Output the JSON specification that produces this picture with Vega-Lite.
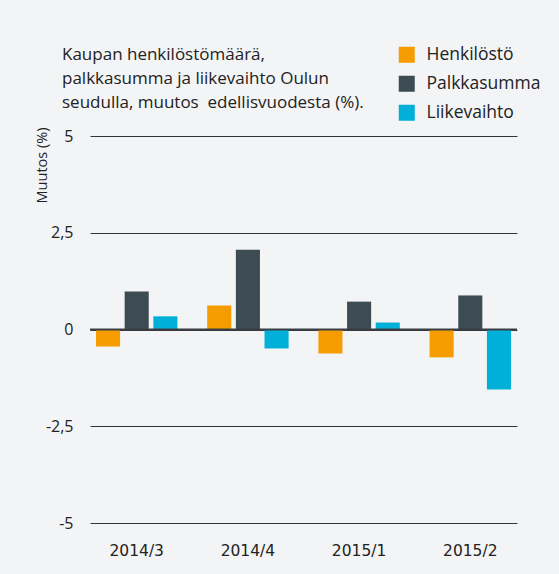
{
  "$schema": "https://vega.github.io/schema/vega-lite/v6.json",
  "width": 427,
  "height": 387,
  "padding": {"left": 90, "top": 136, "right": 42, "bottom": 51},
  "autosize": {"type": "none"},
  "background": "#f3f4f6",
  "config": {
    "font": "Open Sans",
    "view": {"stroke": null},
    "text": {"font": "Open Sans"}
  },
  "title": {
    "text": ["Kaupan henkilöstömäärä,", "palkkasumma ja liikevaihto Oulun", "seudulla, muutos\u00a0 edellisvuodesta (%)."],
    "anchor": "start",
    "frame": "group",
    "dx": -28,
    "dy": 92,
    "offset": 26,
    "fontSize": 17,
    "fontWeight": "normal",
    "color": "#222222",
    "lineHeight": 24,
    "font": "Open Sans"
  },
  "data": {
    "values": [
      {"q": "2014/3", "s": "Henkilöstö", "v": -0.44},
      {"q": "2014/3", "s": "Palkkasumma", "v": 0.98},
      {"q": "2014/3", "s": "Liikevaihto", "v": 0.34},
      {"q": "2014/4", "s": "Henkilöstö", "v": 0.62},
      {"q": "2014/4", "s": "Palkkasumma", "v": 2.06},
      {"q": "2014/4", "s": "Liikevaihto", "v": -0.49},
      {"q": "2015/1", "s": "Henkilöstö", "v": -0.62},
      {"q": "2015/1", "s": "Palkkasumma", "v": 0.72},
      {"q": "2015/1", "s": "Liikevaihto", "v": 0.18},
      {"q": "2015/2", "s": "Henkilöstö", "v": -0.72},
      {"q": "2015/2", "s": "Palkkasumma", "v": 0.88},
      {"q": "2015/2", "s": "Liikevaihto", "v": -1.55}
    ]
  },
  "layer": [
    {
      "mark": {"type": "bar"},
      "encoding": {
        "x": {
          "field": "q", "type": "nominal",
          "scale": {"paddingInner": 0.268, "paddingOuter": 0.054},
          "axis": {
            "title": null, "domain": false, "ticks": false, "labelAngle": 0,
            "labelPadding": 20, "labelFontSize": 15.5, "labelColor": "#222222",
            "labelFont": "DejaVu Sans", "labelFontWeight": "normal"
          }
        },
        "xOffset": {
          "field": "s", "type": "nominal",
          "sort": ["Henkilöstö", "Palkkasumma", "Liikevaihto"],
          "scale": {"paddingInner": 0.16, "paddingOuter": 0}
        },
        "y": {
          "field": "v", "type": "quantitative",
          "scale": {"domain": [-5, 5], "nice": false},
          "axis": {
            "title": "Muutos (%)",
            "titleFontSize": 14.5, "titleFontWeight": "normal", "titleColor": "#222222",
            "titleFont": "Open Sans",
            "titleAngle": -90, "titleAlign": "right", "titleBaseline": "middle",
            "titleX": -48, "titleY": -9,
            "values": [-5, -2.5, 0, 2.5, 5],
            "labelExpr": "replace(toString(datum.value), '.', ',')",
            "labelFontSize": 16, "labelColor": "#222222", "labelPadding": 17,
            "labelFont": "Open Sans",
            "domain": false, "ticks": false,
            "grid": true, "gridColor": "#333333", "gridWidth": 1
          }
        },
        "color": {
          "field": "s", "type": "nominal",
          "sort": ["Henkilöstö", "Palkkasumma", "Liikevaihto"],
          "scale": {"domain": ["Henkilöstö", "Palkkasumma", "Liikevaihto"], "range": ["#f59c00", "#3d4b52", "#00b0d9"]},
          "legend": {
            "title": null, "orient": "none", "legendX": 308, "legendY": -90,
            "symbolType": "square", "symbolSize": 256, "symbolStrokeWidth": 0,
            "labelFontSize": 17.5, "labelColor": "#222222", "labelOffset": 11,
            "labelFont": "Open Sans",
            "rowPadding": 10
          }
        }
      }
    },
    {
      "data": {"values": [{"z": 0}]},
      "mark": {"type": "rule", "color": "#3a3f44", "strokeWidth": 2},
      "encoding": {"y": {"field": "z", "type": "quantitative"}}
    }
  ]
}
